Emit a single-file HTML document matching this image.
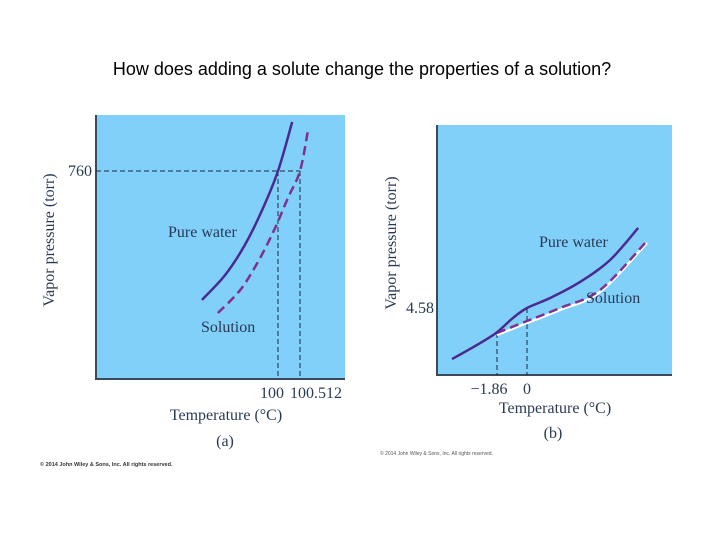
<!DOCTYPE html>
<html><head><meta charset="utf-8"><style>
html,body{margin:0;padding:0;background:#fff;width:720px;height:540px;overflow:hidden}
svg{display:block}
.ser{font-family:"Liberation Serif",serif;fill:#2a3a55}
</style></head><body>
<svg id="s" width="720" height="540" viewBox="0 0 720 540">
<text x="362" y="75" text-anchor="middle" font-family="Liberation Sans, sans-serif" font-size="18" fill="#000">How does adding a solute change the properties of a solution?</text>
<g id="ga"></g>
<g id="gb"></g>
<text x="40" y="466" font-family="Liberation Sans, sans-serif" font-size="5.5" font-weight="bold" fill="#333">© 2014 John Wiley &amp; Sons, Inc. All rights reserved.</text>
<text x="380" y="455" font-family="Liberation Sans, sans-serif" font-size="5" fill="#555">© 2014 John Wiley &amp; Sons, Inc. All rights reserved.</text>
</svg>
<script>
// Panel (a) data: temperature (°C) vs vapor pressure (torr)
const aPureT=[98.23,98.77,99.23,99.63,100,100.33];
const aPureP=[289,380,490,617,760,939];
const aSolT=[98.60,99.12,99.53,99.91,100.23,100.512,100.70];
const aSolP=[241,325,427,544,661,760,910];
const aTicks=[100,100.512];
const aTickLabels=["100","100.512"];
const aRefP=760;
// Panel (b) data
const bPureT=[-4.65,-3.22,-1.92,-0.87,0,1.43,3.29,5.15,6.89];
const bPureP=[1.09,1.98,2.87,3.90,4.58,5.26,6.36,7.86,10.05];
const bSolT=[-1.86,0,2.05,4.53,7.44];
const bSolP=[2.87,3.69,4.58,5.81,9.16];
const bTicks=[-1.86,0];
const bTickLabels=["\u22121.86","0"];
const bRefP=4.58;

const NS="http://www.w3.org/2000/svg";
function mk(g,tag,at,txt){const e=document.createElementNS(NS,tag);for(const k in at)e.setAttribute(k,at[k]);if(txt!==undefined)e.textContent=txt;g.appendChild(e);return e;}
function smooth(xs,ys,X,Y){const p=xs.map((t,i)=>[X(t),Y(ys[i])]);let d="M"+p[0][0]+","+p[0][1];for(let i=0;i<p.length-1;i++){const p0=p[i-1]||p[i],p1=p[i],p2=p[i+1],p3=p[i+2]||p2;const c1=[p1[0]+(p2[0]-p0[0])/6,p1[1]+(p2[1]-p0[1])/6],c2=[p2[0]-(p3[0]-p1[0])/6,p2[1]-(p3[1]-p1[1])/6];d+="C"+c1.join(",")+" "+c2.join(",")+" "+p2.join(",");}return d;}

// Panel a
(function(){
const g=document.getElementById('ga');
const L=96,R=345,T=115,B=379;
const X=t=>278+(t-100)*42.97, Y=p=>B-p*0.2737;
let e=mk(g,'rect',{x:L,y:T,width:R-L,height:B-T,fill:'#80d0fa'});

e=mk(g,'path',{d:`M${L},${T}V${B}H${R}`,stroke:'#3a4a5a','stroke-width':2,fill:'none'});

e=mk(g,'line',{x1:L,y1:Y(aRefP),x2:X(aTicks[1]),y2:Y(aRefP),stroke:'#1a2a40','stroke-width':1,'stroke-dasharray':'5,3'});

aTicks.forEach((t,i)=>{
 e=mk(g,'line',{x1:X(t),y1:Y(aRefP),x2:X(t),y2:B,stroke:'#1a2a40','stroke-width':1,'stroke-dasharray':'5,3'});
 
 e=mk(g,'text',{x:X(t)+(i?16:-6),y:398,'text-anchor':'middle','font-size':16,class:'ser'},aTickLabels[i]);
 
});
e=mk(g,'text',{x:92,y:Y(aRefP)+5,'text-anchor':'end','font-size':16,class:'ser'},String(aRefP));

e=mk(g,'path',{d:smooth(aPureT,aPureP,X,Y),stroke:'#4a2a90','stroke-width':2.5,fill:'none'});

e=mk(g,'path',{d:smooth(aSolT,aSolP,X,Y),stroke:'#80308e','stroke-width':2.5,fill:'none','stroke-dasharray':'9,5'});

e=mk(g,'text',{x:168,y:237,'font-size':16,class:'ser'},'Pure water');

e=mk(g,'text',{x:201,y:332,'font-size':16,class:'ser'},'Solution');

e=mk(g,'text',{x:226,y:420,'text-anchor':'middle','font-size':16,class:'ser'},'Temperature (°C)');

e=mk(g,'text',{x:0,y:0,'text-anchor':'middle','font-size':16,class:'ser',transform:'translate(54,240) rotate(-90)'},'Vapor pressure (torr)');

e=mk(g,'text',{x:225,y:446,'text-anchor':'middle','font-size':16,class:'ser'},'(a)');

})();

// Panel b
(function(){
const g=document.getElementById('gb');
const L=437,R=672,T=125,B=375;
const X=t=>527+t*16.13, Y=p=>B-p*14.63;
let e=mk(g,'rect',{x:L,y:T,width:R-L,height:B-T,fill:'#80d0fa'});

e=mk(g,'path',{d:`M${L},${T}V${B}H${R}`,stroke:'#3a4a5a','stroke-width':2,fill:'none'});

bTicks.forEach((t,i)=>{
 const yTop=i?Y(bRefP):Y(bSolP[0]);
 e=mk(g,'line',{x1:X(t),y1:yTop,x2:X(t),y2:B,stroke:'#1a2a40','stroke-width':1,'stroke-dasharray':'5,3'});
 
 e=mk(g,'text',{x:X(t)+(i?0:-8),y:394,'text-anchor':'middle','font-size':16,class:'ser'},bTickLabels[i]);
 
});
e=mk(g,'text',{x:434,y:Y(bRefP)+5,'text-anchor':'end','font-size':16,class:'ser'},bRefP.toFixed(2));

e=mk(g,'path',{d:smooth(bSolT,bSolP,X,Y),stroke:'#ffffff','stroke-width':2.5,fill:'none','transform':'translate(0,2)'});

e=mk(g,'path',{d:smooth(bSolT,bSolP,X,Y),stroke:'#80308e','stroke-width':2.5,fill:'none','stroke-dasharray':'9,5'});

e=mk(g,'path',{d:smooth(bPureT,bPureP,X,Y),stroke:'#4a2a90','stroke-width':2.5,fill:'none','stroke-linejoin':'round'});

e=mk(g,'text',{x:539,y:247,'font-size':16,class:'ser'},'Pure water');

e=mk(g,'text',{x:586,y:303,'font-size':16,class:'ser'},'Solution');

e=mk(g,'text',{x:555,y:413,'text-anchor':'middle','font-size':16,class:'ser'},'Temperature (°C)');

e=mk(g,'text',{x:0,y:0,'text-anchor':'middle','font-size':16,class:'ser',transform:'translate(396,243) rotate(-90)'},'Vapor pressure (torr)');

e=mk(g,'text',{x:553,y:438,'text-anchor':'middle','font-size':16,class:'ser'},'(b)');

})();
</script>
</body></html>
